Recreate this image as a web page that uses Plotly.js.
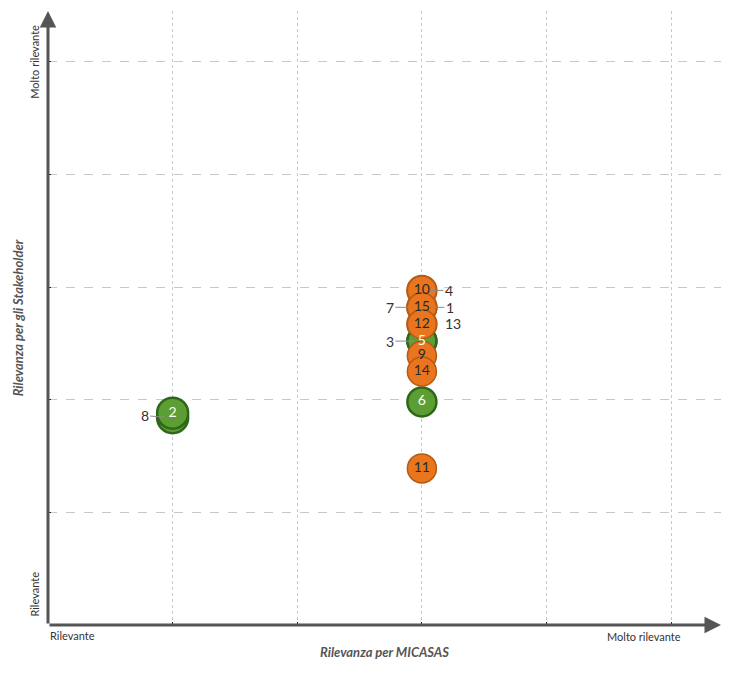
<!DOCTYPE html>
<html><head><meta charset="utf-8">
<script src="https://cdn.plot.ly/plotly-3.0.1.min.js"></script>
<style>html,body{margin:0;padding:0;background:#fff}#chart{width:751px;height:690px}</style>
</head><body><div id="chart"></div>
<script>
// Topic ids, position on MICASAS relevance (x) and stakeholder relevance (y), 0..5 scale
const ids          = ['1','2','3','4','5','6','7','8','9','10','11','12','13','14','15'];
const micasas      = [3, 1, 3, 3, 3, 3, 3, 1, 3, 3, 3, 3, 3, 3, 3];
const stakeholder  = [2.82, 1.88, 2.52, 2.97, 2.52, 1.98, 2.82, 1.84, 2.39, 2.97, 1.39, 2.67, 2.67, 2.25, 2.82];
const groups       = ['o','g','g','o','g','g','o','g','o','o','o','o','o','o','o'];
// labels drawn outside the bubble (hidden behind other bubbles)
const outsideIds   = ['1','3','4','7','8','13'];
// drawing order for visible bubbles (later = on top)
const visibleOrder = ['5','6','11','10','15','12','9','14','2'];
const xTickLabels  = ['Rilevante','Molto rilevante'];
const yTickLabels  = ['Rilevante','Molto rilevante'];

const FONT = 'Lato, "DejaVu Sans", sans-serif';
const fill = {o:'#E9761E', g:'#5C9E34'};
const edge = {o:'#B65A14', g:'#2E661A'};
const idx = id => ids.indexOf(id);

const traces = [];
// hidden bubbles first
const hid = outsideIds.map(idx);
traces.push({
  type:'scatter', mode:'markers', hoverinfo:'skip',
  x: hid.map(i=>micasas[i]), y: hid.map(i=>stakeholder[i]),
  marker:{size: hid.map(i=>ids[i]==='8'?31:29), color: hid.map(i=>fill[groups[i]]),
          line:{color: hid.map(i=>edge[groups[i]]), width:2.5}, opacity:1}
});
visibleOrder.forEach(id=>{
  const i = idx(id);
  const g = groups[i];
  traces.push({
    type:'scatter', mode:'markers', hoverinfo:'skip',
    x:[micasas[i]], y:[stakeholder[i]],
    marker:{size: id==='2'?31:29, color: fill[g], line:{color: edge[g], width: g==='g'?2.5:1.5}, opacity:1}
  });
});
// all bubble labels on top
const vis = visibleOrder.map(idx);
traces.push({
  type:'scatter', mode:'text', hoverinfo:'skip',
  x: vis.map(i=>micasas[i]), y: vis.map(i=>stakeholder[i]), text: vis.map(i=>ids[i]),
  textposition:'middle center',
  textfont:{family:FONT, size:14, color: vis.map(i=>groups[i]==='g' ? '#ffffff' : '#2a2a2a')}
});

const offsets = {'1':[28,0], '3':[-32,0], '4':[27,0], '7':[-32,0], '8':[-28,-2], '13':[31,-1]};
const annotations = [];
outsideIds.forEach(id=>{
  const i = idx(id);
  const [ax, ay] = offsets[id];
  if (id === '13') {
    annotations.push({x:micasas[i], y:stakeholder[i], xref:'x', yref:'y', text:id, showarrow:false,
      xshift:ax, yshift:-ay, font:{family:FONT, size:14, color:'#333'}});
  } else {
    annotations.push({x:micasas[i], y:stakeholder[i], xref:'x', yref:'y', text:id, showarrow:true,
      ax:ax, ay:ay, arrowhead:0, arrowwidth:1, arrowcolor:'#8a8a8a', standoff:8,
      font:{family:FONT, size:14, color:'#333'}});
  }
});
// axis arrows
annotations.push({x:5.4, y:0, ax:0, ay:0, xref:'x', yref:'y', axref:'x', ayref:'y', text:'', showarrow:true,
  arrowhead:2, arrowsize:1.1, arrowwidth:3, arrowcolor:'#555'});
annotations.push({x:0, y:5.45, ax:0, ay:0, xref:'x', yref:'y', axref:'x', ayref:'y', text:'', showarrow:true,
  arrowhead:2, arrowsize:1.1, arrowwidth:3, arrowcolor:'#555'});
// axis end labels
annotations.push({x:0, y:0, xref:'x', yref:'y', text:xTickLabels[0], showarrow:false, xanchor:'left', yanchor:'top',
  yshift:-2, font:{family:FONT, size:11, color:'#333'}});
annotations.push({x:4.78, y:0, xref:'x', yref:'y', text:xTickLabels[1], showarrow:false, xanchor:'center', yanchor:'top',
  yshift:-3, font:{family:FONT, size:11, color:'#333'}});
annotations.push({x:0, y:0.27, xref:'x', yref:'y', text:yTickLabels[0], showarrow:false, textangle:-90,
  xanchor:'center', yanchor:'middle', xshift:-13, font:{family:FONT, size:11, color:'#333'}});
annotations.push({x:0, y:5.0, xref:'x', yref:'y', text:yTickLabels[1], showarrow:false, textangle:-90,
  xanchor:'center', yanchor:'middle', xshift:-13, font:{family:FONT, size:11, color:'#333'}});

const layout = {
  width:751, height:690, showlegend:false,
  margin:{l:48, r:30, t:11, b:65},
  paper_bgcolor:'#fff', plot_bgcolor:'#fff',
  font:{family:FONT},
  xaxis:{range:[0,5.4], tickvals:[1,2,3,4,5], showticklabels:false, ticks:'inside', ticklen:3, tickcolor:'#222',
    showgrid:true, gridcolor:'#c8c8c8', griddash:'dot', gridwidth:1, zeroline:false, showline:false, fixedrange:true,
    title:{text:'<i>Rilevanza per MICASAS</i>', font:{family:FONT, size:13, color:'#555', weight:'bold'}, standoff:22}},
  yaxis:{range:[0,5.45], tickvals:[1,2,3,4,5], showticklabels:false, ticks:'inside', ticklen:3, tickcolor:'#222',
    showgrid:true, gridcolor:'#c8c8c8', griddash:'dash', gridwidth:1, zeroline:false, showline:false, fixedrange:true,
    title:{text:'<i>Rilevanza per gli Stakeholder</i>', font:{family:FONT, size:13, color:'#555', weight:'bold'}, standoff:20}},
  annotations: annotations
};
Plotly.newPlot('chart', traces, layout, {staticPlot:true, displayModeBar:false});
</script></body></html>
